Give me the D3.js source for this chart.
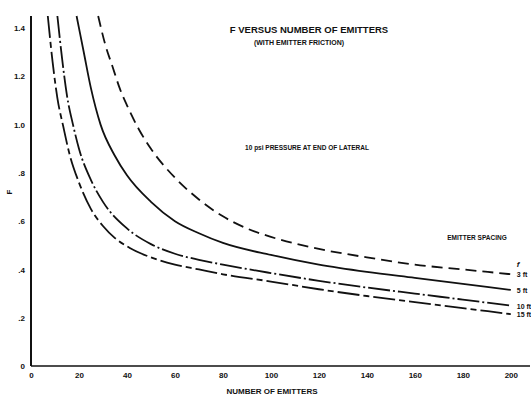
<!DOCTYPE html>
<html>
<head>
<meta charset="utf-8">
<script src="https://cdn.jsdelivr.net/npm/d3@7"></script>
<style>
  body { margin: 0; background: #fff; }
  svg { display: block; }
  text { font-family: "Liberation Sans", Arial, sans-serif; font-weight: bold; fill: #111; }
</style>
</head>
<body>
<svg id="chart" width="531" height="400"></svg>
<script>
// emitters (x) and F (y)
const ft3 = [[28,1.45],[31,1.33],[34,1.24],[37,1.15],[40,1.08],[45,0.98],[50,0.90],[60,0.78],[70,0.69],[80,0.62],[90,0.57],[100,0.535],[120,0.485],[140,0.45],[160,0.42],[180,0.40],[200,0.38]];
const ft5 = [[19,1.45],[22,1.30],[25,1.15],[29,1.0],[35,0.87],[40,0.79],[50,0.68],[60,0.60],[70,0.55],[80,0.51],[100,0.46],[120,0.42],[140,0.39],[160,0.365],[180,0.34],[200,0.315]];
const ft10 = [[11,1.45],[13,1.27],[15,1.12],[17.5,1.0],[20,0.90],[25,0.77],[30,0.68],[40,0.57],[50,0.505],[60,0.465],[70,0.44],[80,0.42],[100,0.385],[120,0.353],[140,0.325],[160,0.30],[180,0.275],[200,0.25]];
const ft15 = [[7,1.45],[9,1.26],[11,1.11],[13.5,0.99],[16,0.88],[20,0.76],[25,0.65],[30,0.58],[35,0.53],[41,0.49],[50,0.45],[60,0.42],[70,0.40],[80,0.38],[100,0.35],[120,0.318],[140,0.29],[160,0.265],[180,0.24],[200,0.215]];

const xTicks = [0,20,40,60,80,100,120,140,160,180,200];
const xTickLabels = ["0","20","40","60","80","100","120","140","160","180","200"];
const yTicks = [0,0.2,0.4,0.6,0.8,1.0,1.2,1.4];
const yTickLabels = ["0",".2",".4",".6",".8","1.0","1.2","1.4"];

const series = [
  {name: "3 ft", data: ft3, dash: "11,6"},
  {name: "5 ft", data: ft5, dash: null},
  {name: "10 ft", data: ft10, dash: "22,3,2,3"},
  {name: "15 ft", data: ft15, dash: "22,4,6,4"}
];

const svg = d3.select("#chart");
const x = d3.scaleLinear().domain([0, 208]).range([31, 530]);
const y = d3.scaleLinear().domain([0, 1.45]).range([366, 16]);

// axes
svg.append("line").attr("x1", x(0)).attr("x2", x(0)).attr("y1", y(0)).attr("y2", y(1.45))
  .attr("stroke", "#111").attr("stroke-width", 2);
svg.append("line").attr("x1", x(0)).attr("x2", x(208)).attr("y1", y(0)).attr("y2", y(0))
  .attr("stroke", "#111").attr("stroke-width", 1.6);

const xg = svg.append("g").attr("transform", `translate(0,${y(0)})`)
  .call(d3.axisBottom(x).tickValues(xTicks).tickSize(0).tickPadding(6)
    .tickFormat((d, i) => xTickLabels[i]));
xg.select(".domain").remove();
xg.selectAll("text").style("font-size", "8px").style("font-family", "Liberation Sans, Arial, sans-serif").style("font-weight", "bold");

const yg = svg.append("g").attr("transform", `translate(${x(0)},0)`)
  .call(d3.axisLeft(y).tickValues(yTicks).tickSize(0).tickPadding(6)
    .tickFormat((d, i) => yTickLabels[i]));
yg.select(".domain").remove();
yg.selectAll("text").style("font-size", "8px").style("font-family", "Liberation Sans, Arial, sans-serif").style("font-weight", "bold");

// curves
const line = d3.line().x(d => x(d[0])).y(d => y(d[1])).curve(d3.curveMonotoneX);
series.forEach(s => {
  svg.append("path").datum(s.data).attr("d", line)
    .attr("fill", "none").attr("stroke", "#111").attr("stroke-width", 1.8)
    .attr("stroke-dasharray", s.dash);
});

// right-hand labels
series.forEach(s => {
  const last = s.data[s.data.length - 1];
  svg.append("text").attr("x", x(last[0]) + 6).attr("y", y(last[1]) + 3)
    .style("font-size", "7px").text(s.name);
});
svg.append("text").attr("x", x(200) + 6).attr("y", y(ft3[ft3.length - 1][1]) - 7)
  .style("font-size", "8px").style("font-style", "italic").text("f");

// titles
svg.append("text").attr("x", 309).attr("y", 33).attr("text-anchor", "middle")
  .style("font-size", "9.5px").text("F VERSUS NUMBER OF EMITTERS");
svg.append("text").attr("x", 299).attr("y", 45).attr("text-anchor", "middle")
  .style("font-size", "7px").text("(WITH EMITTER FRICTION)");
svg.append("text").attr("x", 307).attr("y", 150).attr("text-anchor", "middle")
  .style("font-size", "6.5px").text("10 psi PRESSURE AT END OF LATERAL");
svg.append("text").attr("x", 477).attr("y", 240).attr("text-anchor", "middle")
  .style("font-size", "6.5px").text("EMITTER SPACING");
svg.append("text").attr("x", 272).attr("y", 394).attr("text-anchor", "middle")
  .style("font-size", "8px").text("NUMBER OF EMITTERS");
svg.append("text").attr("transform", "translate(12,192) rotate(-90)").attr("text-anchor", "middle")
  .style("font-size", "8px").text("F");
</script>
</body>
</html>
